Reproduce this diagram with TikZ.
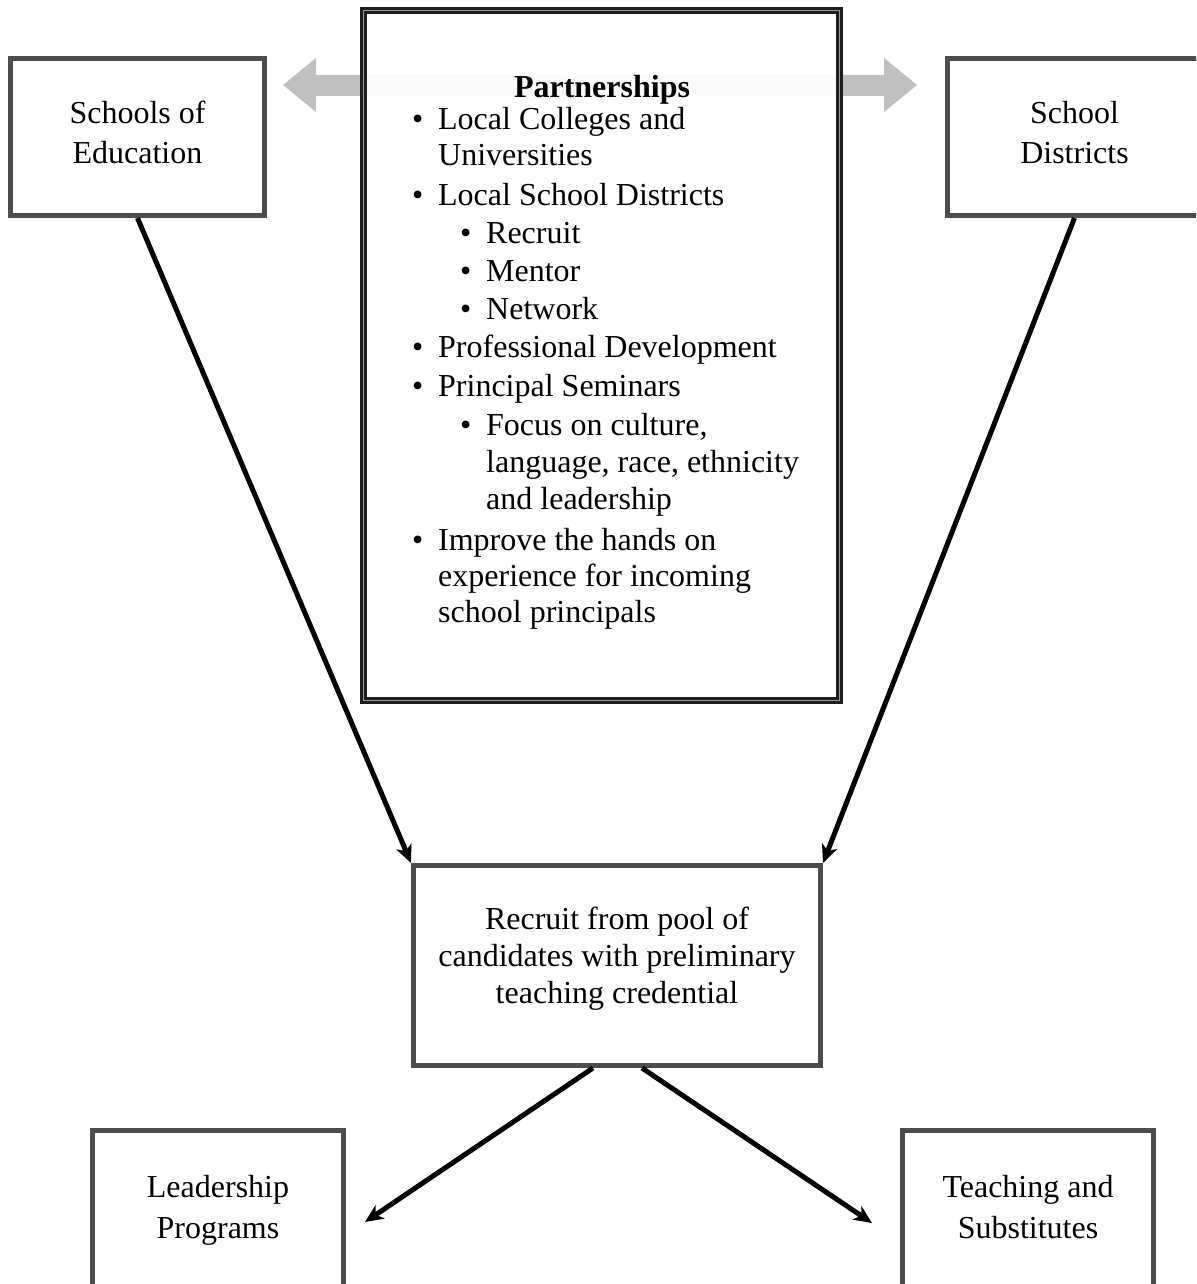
\documentclass[tikz,border=0pt]{standalone}
\usepackage{fontspec}
\setmainfont{Liberation Serif}
\usetikzlibrary{arrows.meta}
\definecolor{boxgray}{HTML}{4D4D4D}
\definecolor{arrgray}{HTML}{C0C0C0}
\newcommand{\bul}{\makebox[26pt][l]{•}}
\begin{document}
\begin{tikzpicture}[x=1pt,y=-1pt,
  box/.style={draw=boxgray, line width=5pt, fill=white, align=center,
    font=\fontsize{32}{40}\selectfont, inner sep=0pt},
  ln/.style={anchor=base west, inner sep=0pt, font=\fontsize{32}{37}\selectfont},
  conn/.style={line width=5pt, -{Stealth[length=18pt,width=16pt,inset=5pt]}}]
\useasboundingbox (0,0) rectangle (1196,1284);
\clip (0,0) rectangle (1196,1284);

% gray double arrow between the top boxes
\fill[arrgray] (283,85) -- (316,58) -- (316,75) -- (884,75) -- (884,58)
  -- (917,85) -- (884,112) -- (884,96) -- (316,96) -- (316,112) -- cycle;

% partnerships box
\node[draw=black!88, double=black!40, double distance=1.2pt, line width=2.9pt,
  fill=white, fill opacity=0.92, minimum width=476pt, minimum height=690pt,
  inner sep=0pt] (part) at (601.5,355.5) {};

\node[anchor=base, inner sep=0pt, font=\fontsize{32}{37}\selectfont\bfseries] (ptitle) at (602,98) {Partnerships};
\node[ln] (p1)  at (412,130) {\bul Local Colleges and};
\node[ln] (p1b) at (438,166) {Universities};
\node[ln] (p2)  at (412,205) {\bul Local School Districts};
\node[ln] (p2a) at (460,243) {\bul Recruit};
\node[ln] (p2b) at (460,281) {\bul Mentor};
\node[ln] (p2c) at (460,319) {\bul Network};
\node[ln] (p3)  at (412,357) {\bul Professional Development};
\node[ln] (p4)  at (412,396) {\bul Principal Seminars};
\node[ln] (p4a) at (460,435) {\bul Focus on culture,};
\node[ln] (p4b) at (486,472) {language, race, ethnicity};
\node[ln] (p4c) at (486,509) {and leadership};
\node[ln] (p5)  at (412,550) {\bul Improve the hands on};
\node[ln] (p5b) at (438,586) {experience for incoming};
\node[ln] (p5c) at (438,622) {school principals};

% boxes
\node[box, minimum width=254pt, minimum height=157pt] (soe) at (137.5,137)
  {Schools of\\Education\rule[-10pt]{0pt}{10pt}};
\node[box, minimum width=254pt, minimum height=157pt] (sd) at (1074.5,137)
  {School\\Districts\rule[-10pt]{0pt}{10pt}};
\node[box, font=\fontsize{32}{37}\selectfont, minimum width=407pt, minimum height=200pt] (rec) at (617,965.5)
  {Recruit from pool of\\candidates with preliminary\\teaching credential\rule[-21pt]{0pt}{21pt}};
\node[box, font=\fontsize{32}{41}\selectfont, minimum width=251pt, minimum height=177pt] (lead) at (218,1219)
  {Leadership\\Programs\rule[-25pt]{0pt}{25pt}};
\node[box, font=\fontsize{32}{41}\selectfont, minimum width=251pt, minimum height=177pt] (teach) at (1028,1219)
  {Teaching and\\Substitutes\rule[-25pt]{0pt}{25pt}};

% connectors
\coordinate (lt) at (365,1222);
\coordinate (rt) at (872,1223);
\draw[conn] (soe.south) -- (rec.north west);
\draw[conn] (sd.south) -- (rec.north east);
\draw[conn] ([xshift=-24pt]rec.south) -- (lt);
\draw[conn] ([xshift=25pt]rec.south) -- (rt);
\end{tikzpicture}
\end{document}
